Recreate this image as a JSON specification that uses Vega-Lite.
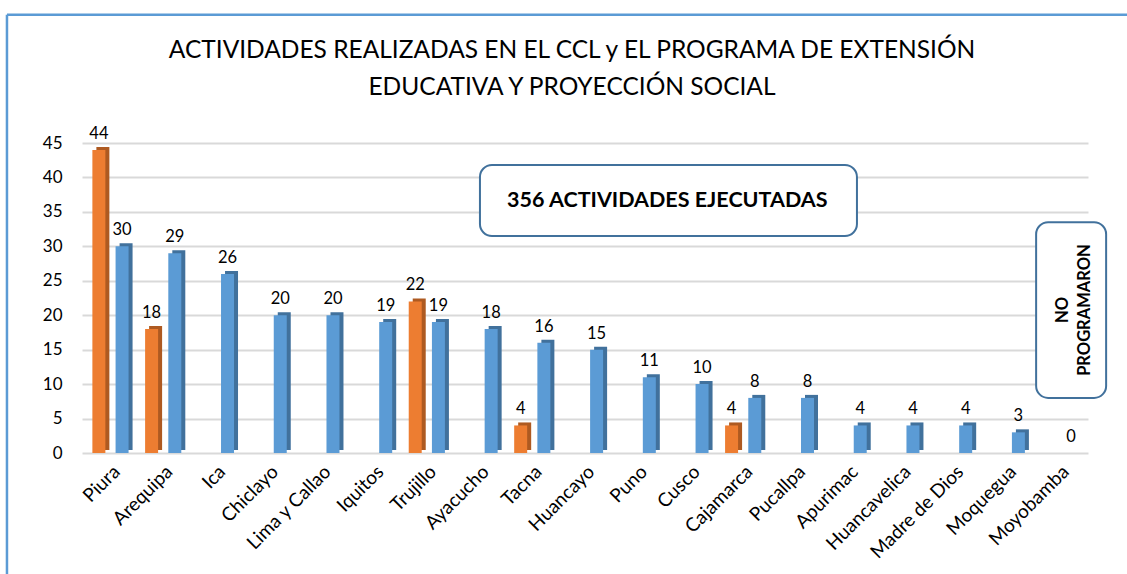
{
  "$schema": "https://vega.github.io/schema/vega-lite/v6.json",
  "width": 1006,
  "height": 310,
  "autosize": {"type": "none"},
  "padding": {"left": 82, "top": 143, "right": 39, "bottom": 121},
  "background": "white",
  "title": {
    "text": ["ACTIVIDADES REALIZADAS EN EL CCL y EL PROGRAMA DE EXTENSIÓN", "EDUCATIVA Y PROYECCIÓN SOCIAL"],
    "font": "Lato",
    "fontSize": 24.5,
    "fontWeight": "normal",
    "color": "#000000",
    "lineHeight": 37,
    "anchor": "middle",
    "frame": "group",
    "offset": -87,
    "dx": -13
  },
  "config": {
    "view": {"stroke": null},
    "font": "Lato"
  },
  "datasets": {
    "bars": [
      {"ciudad": "Piura", "serie": "CCL", "valor": 44},
      {"ciudad": "Piura", "serie": "Extensión", "valor": 30},
      {"ciudad": "Arequipa", "serie": "CCL", "valor": 18},
      {"ciudad": "Arequipa", "serie": "Extensión", "valor": 29},
      {"ciudad": "Ica", "serie": "Extensión", "valor": 26},
      {"ciudad": "Chiclayo", "serie": "Extensión", "valor": 20},
      {"ciudad": "Lima y Callao", "serie": "Extensión", "valor": 20},
      {"ciudad": "Iquitos", "serie": "Extensión", "valor": 19},
      {"ciudad": "Trujillo", "serie": "CCL", "valor": 22},
      {"ciudad": "Trujillo", "serie": "Extensión", "valor": 19},
      {"ciudad": "Ayacucho", "serie": "Extensión", "valor": 18},
      {"ciudad": "Tacna", "serie": "CCL", "valor": 4},
      {"ciudad": "Tacna", "serie": "Extensión", "valor": 16},
      {"ciudad": "Huancayo", "serie": "Extensión", "valor": 15},
      {"ciudad": "Puno", "serie": "Extensión", "valor": 11},
      {"ciudad": "Cusco", "serie": "Extensión", "valor": 10},
      {"ciudad": "Cajamarca", "serie": "CCL", "valor": 4},
      {"ciudad": "Cajamarca", "serie": "Extensión", "valor": 8},
      {"ciudad": "Pucallpa", "serie": "Extensión", "valor": 8},
      {"ciudad": "Apurimac", "serie": "Extensión", "valor": 4},
      {"ciudad": "Huancavelica", "serie": "Extensión", "valor": 4},
      {"ciudad": "Madre de Dios", "serie": "Extensión", "valor": 4},
      {"ciudad": "Moquegua", "serie": "Extensión", "valor": 3},
      {"ciudad": "Moyobamba", "serie": "Extensión", "valor": 0}
    ],
    "caja1": [{"ciudad": "Cusco", "y1": 31.5, "y2": 41.8, "ym": 36.65, "texto": "356 ACTIVIDADES EJECUTADAS"}],
    "caja2": [{"ciudad": "Moyobamba", "serie": "Extensión", "y1": 8, "y2": 33.5, "ym": 20.75, "texto": ["NO", "PROGRAMARON"]}],
    "marco": [{"ciudad": "Piura", "fin": "Moyobamba", "arriba": 63.6, "abajo": -25}]
  },
  "resolve": {"scale": {"x": "independent", "xOffset": "independent", "color": "independent"}},
  "layer": [
    {
      "data": {"name": "bars"},
      "mark": {"type": "bar", "yOffset": -3, "y2Offset": -3},
      "encoding": {
        "x": {"field": "ciudad", "type": "nominal",
              "scale": {"domain": ["Piura", "Arequipa", "Ica", "Chiclayo", "Lima y Callao", "Iquitos", "Trujillo", "Ayacucho", "Tacna", "Huancayo", "Puno", "Cusco", "Cajamarca", "Pucallpa", "Apurimac", "Huancavelica", "Madre de Dios", "Moquegua", "Moyobamba"], "paddingInner": 0.12, "paddingOuter": 0.1, "align": 0.88},
              "axis": null},
        "xOffset": {"field": "serie", "type": "nominal", "scale": {"domain": ["CCL", "Extensión"], "paddingInner": 0.44, "paddingOuter": 0.22}},
        "y": {"field": "valor", "type": "quantitative",
              "scale": {"domain": [0, 45], "nice": false},
              "axis": {"title": null, "values": [0, 5, 10, 15, 20, 25, 30, 35, 40, 45], "tickCount": 10, "labelFontSize": 17, "labelColor": "#000000", "domain": false, "ticks": false, "labelPadding": 20, "gridColor": "#d9d9d9", "gridWidth": 2, "labelFont": "Lato", "labelOverlap": false}},
        "color": {"field": "serie", "type": "nominal", "scale": {"domain": ["CCL", "Extensión"], "range": ["#ae5a21", "#41719c"]}, "legend": null}
      }
    },
    {
      "encoding": {
        "x": {"field": "ciudad", "type": "nominal",
              "scale": {"domain": ["Piura", "Arequipa", "Ica", "Chiclayo", "Lima y Callao", "Iquitos", "Trujillo", "Ayacucho", "Tacna", "Huancayo", "Puno", "Cusco", "Cajamarca", "Pucallpa", "Apurimac", "Huancavelica", "Madre de Dios", "Moquegua", "Moyobamba"], "paddingInner": 0.12, "paddingOuter": 0.1},
              "axis": {"title": null, "labelAngle": -45, "labelFontSize": 19, "labelColor": "#000000", "domain": false, "ticks": false, "labelPadding": 9, "labelFont": "Lato", "grid": false, "labelOverlap": false}},
        "y": {"field": "valor", "type": "quantitative",
              "scale": {"domain": [0, 45], "nice": false},
              "axis": {"title": null, "values": [0, 5, 10, 15, 20, 25, 30, 35, 40, 45], "tickCount": 10, "labelFontSize": 17, "labelColor": "#000000", "domain": false, "ticks": false, "labelPadding": 20, "gridColor": "#d9d9d9", "gridWidth": 2, "labelFont": "Lato", "labelOverlap": false}}
      },
      "layer": [
        {
          "data": {"name": "bars"},
          "mark": {"type": "bar"},
          "encoding": {
            "xOffset": {"field": "serie", "type": "nominal", "scale": {"domain": ["CCL", "Extensión"], "paddingInner": 0.44, "paddingOuter": 0.22}},
            "color": {"field": "serie", "type": "nominal", "scale": {"domain": ["CCL", "Extensión"], "range": ["#ed7d31", "#5b9bd5"]}, "legend": null}
          }
        },
        {
          "data": {"name": "bars"},
          "mark": {"type": "text", "dy": -16, "fontSize": 16.5, "color": "#000000", "font": "Lato"},
          "encoding": {
            "xOffset": {"field": "serie", "type": "nominal"},
            "text": {"field": "valor", "type": "quantitative"}
          }
        },
        {
          "data": {"name": "caja1"},
          "mark": {"type": "bar", "width": 377, "xOffset": -22, "fill": "white", "stroke": "#41719c", "strokeWidth": 2, "cornerRadius": 12},
          "encoding": {
            "y": {"field": "y1", "type": "quantitative"},
            "y2": {"field": "y2"}
          }
        },
        {
          "data": {"name": "caja1"},
          "mark": {"type": "text", "fontSize": 21.5, "fontWeight": "bold", "color": "#000000", "font": "Lato"},
          "encoding": {
            "x": {"field": "ciudad", "type": "nominal", "bandPosition": 0},
            "y": {"field": "ym", "type": "quantitative"},
            "text": {"field": "texto"}
          }
        },
        {
          "data": {"name": "caja2"},
          "mark": {"type": "bar", "width": 70, "fill": "white", "stroke": "#41719c", "strokeWidth": 2, "cornerRadius": 12},
          "encoding": {
            "xOffset": {"field": "serie", "type": "nominal"},
            "y": {"field": "y1", "type": "quantitative"},
            "y2": {"field": "y2"}
          }
        },
        {
          "data": {"name": "caja2"},
          "mark": {"type": "text", "fontSize": 16.5, "fontWeight": "bold", "color": "#000000", "angle": 270, "lineHeight": 22, "dy": -8, "font": "Lato"},
          "encoding": {
            "xOffset": {"field": "serie", "type": "nominal"},
            "y": {"field": "ym", "type": "quantitative"},
            "text": {"field": "texto"}
          }
        },
        {
          "data": {"name": "marco"},
          "mark": {"type": "rule", "color": "#5b9bd5", "strokeWidth": 2.5, "xOffset": -103.5},
          "encoding": {
            "y": {"field": "arriba", "type": "quantitative"},
            "y2": {"field": "abajo"}
          }
        },
        {
          "data": {"name": "marco"},
          "mark": {"type": "rule", "color": "#5b9bd5", "strokeWidth": 2.5, "xOffset": -103.5, "x2Offset": 80},
          "encoding": {
            "x2": {"field": "fin"},
            "y": {"field": "arriba", "type": "quantitative"}
          }
        }
      ]
    }
  ]
}
